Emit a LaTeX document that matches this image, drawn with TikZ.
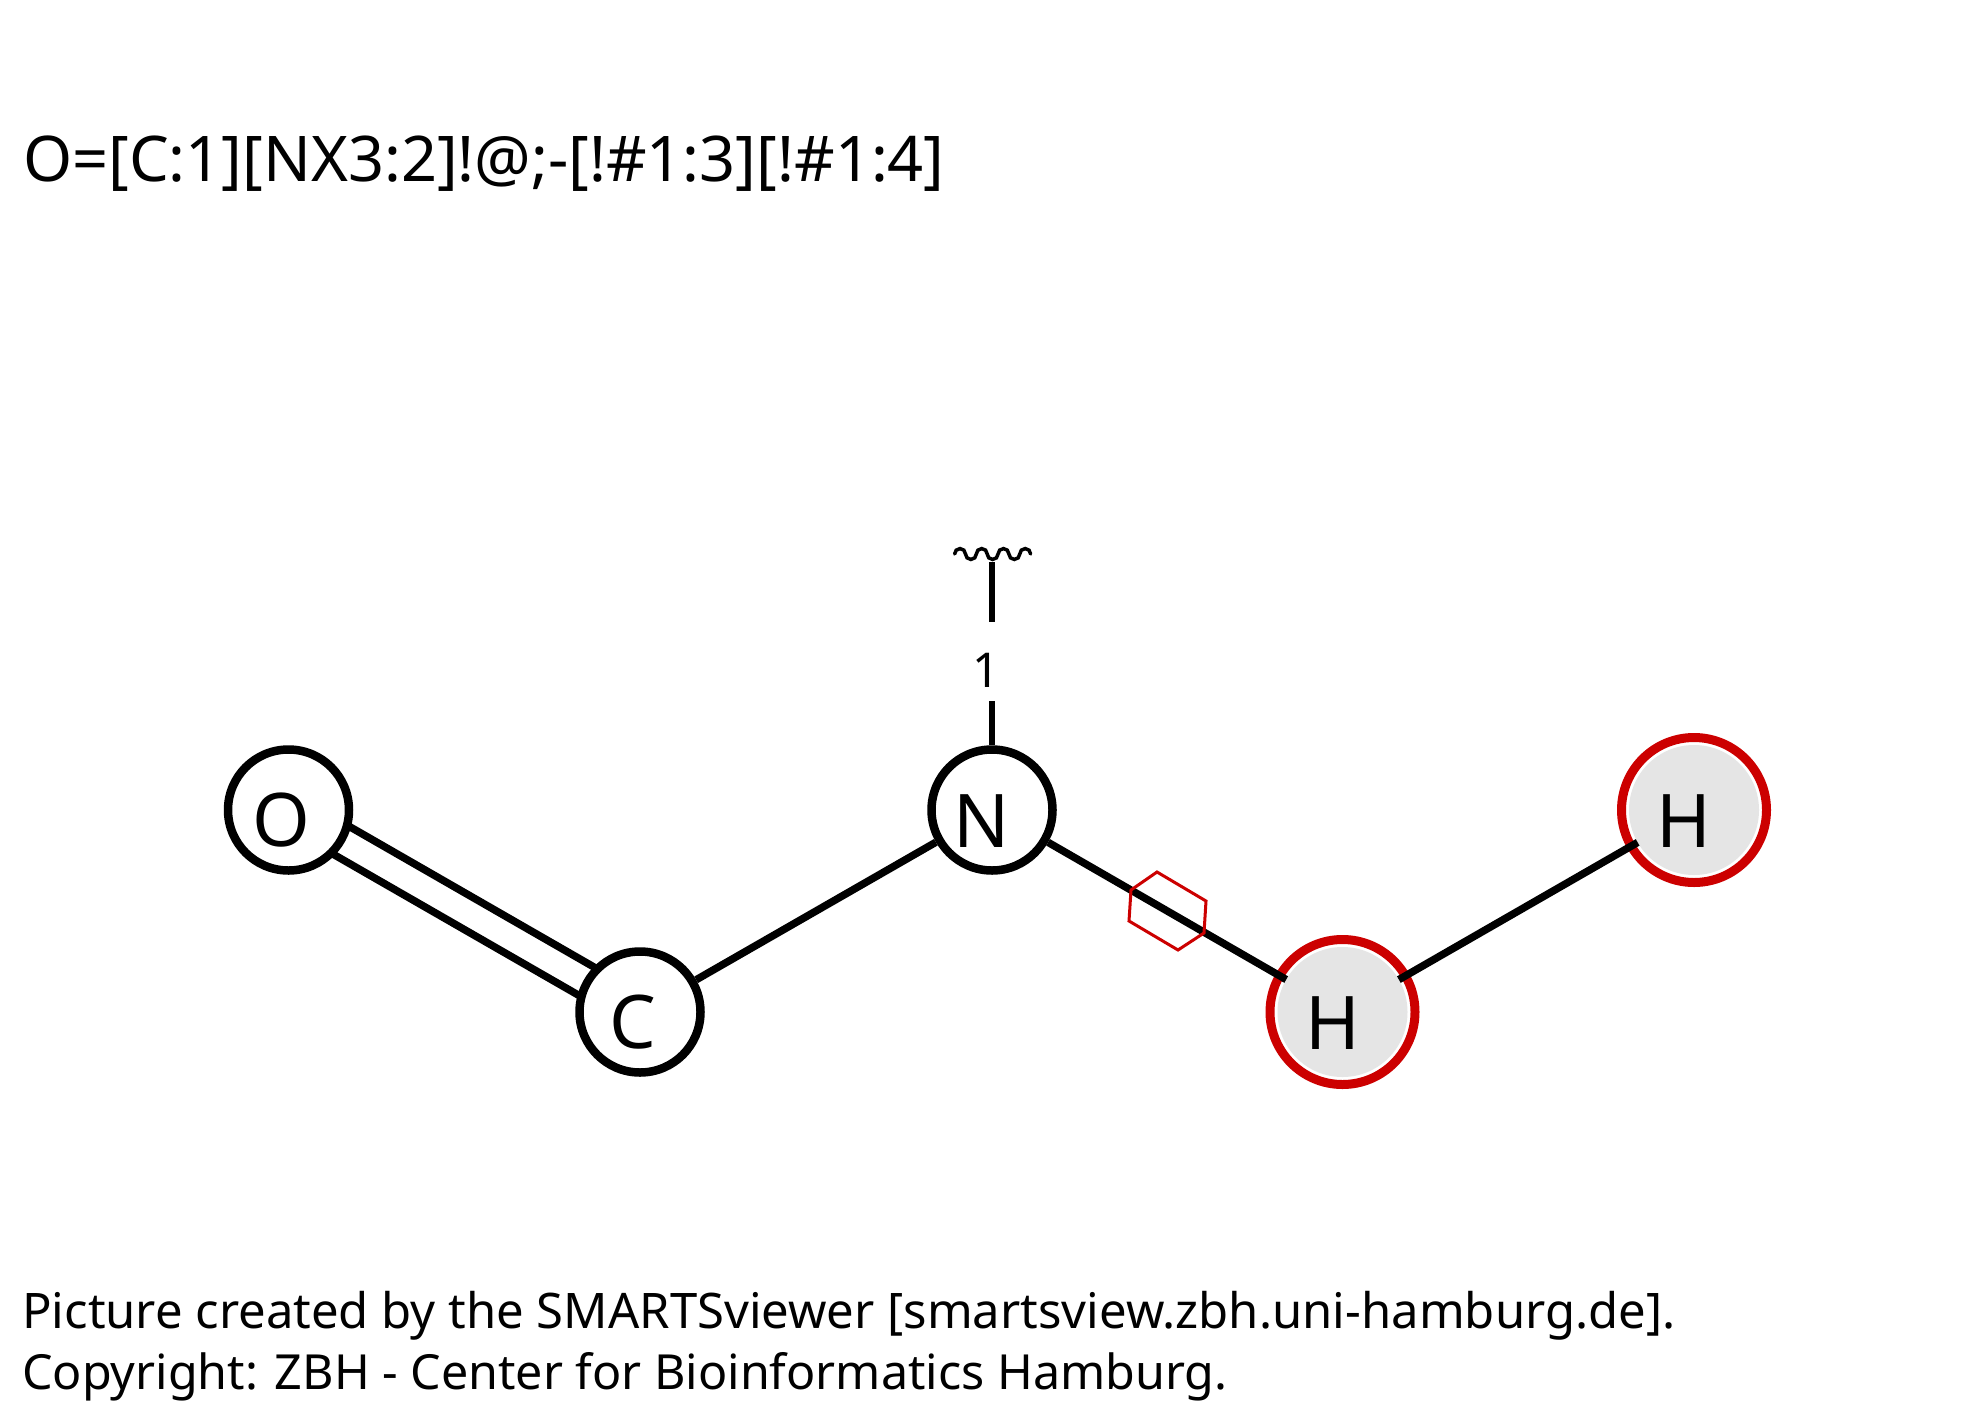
\documentclass[tikz,border=0pt]{standalone}
\usepackage{fontspec}
\setmainfont{Noto Sans}
\usetikzlibrary{backgrounds}
\definecolor{MarkClr}{rgb}{0.8,0,0}
\definecolor{DiscClr}{gray}{0.9}

\begin{document}
\begin{tikzpicture}[x=1pt,y=-1pt]
\tikzset{
  atom/.style={circle,draw=black,fill=white,line width=8.5pt,minimum size=121pt,inner sep=0pt},
  noatom/.style={circle,draw=MarkClr,fill=white,line width=9pt,minimum size=145pt,inner sep=0pt,
    path picture={\fill[DiscClr] (path picture bounding box.center) circle (65pt);}},
  atomlabel/.style={font=\fontsize{74}{74}\selectfont,text=black,inner sep=0pt},
  bond/.style={line width=7.5pt,black},
  thinbond/.style={line width=5.3pt,black},
  caption/.style={anchor=base west,inner sep=0pt}
}
\useasboundingbox (0,0) rectangle (1984,1427);

\node[caption,font=\fontsize{63}{63}\selectfont] (smarts) at (23,181) {O=[C:1][NX3:2]!@;-[!\#1:3][!\#1:4]};
\node[caption,font=\fontsize{49}{49}\selectfont] (creditA) at (22,1328) {Picture created by the SMARTSviewer [smartsview.zbh.uni-hamburg.de].};
\node[caption,font=\fontsize{48.4}{48.4}\selectfont] (creditB) at (22,1389) {Copyright: ZBH - Center for Bioinformatics Hamburg.};

\node[atom,label={[atomlabel,xshift=-7.5pt,yshift=-10pt]center:O}] (O) at (288.5,810) {};
\node[atom,label={[atomlabel,xshift=-7pt,yshift=-10pt]center:C}] (C) at (640,1012) {};
\node[atom,label={[atomlabel,xshift=-10pt,yshift=-11pt]center:N}] (N) at (992,810) {};
\node[noatom,label={[atomlabel,xshift=-10pt,yshift=-11pt]center:H}] (HA) at (1342.5,1012) {};
\node[noatom,label={[atomlabel,xshift=-10pt,yshift=-11pt]center:H}] (HB) at (1694,810) {};

\node[font=\fontsize{48}{48}\selectfont,inner sep=0pt] (one) at (986.5,670) {1};
\coordinate (stubA) at (992,700.7);
\coordinate (stubB) at (992,621.7);
\coordinate (stubC) at (992,562);
\coordinate (wave) at (954.6,554);

\begin{pgfonlayer}{background}
\draw[bond] ([shift={(8,-13.9)}]O.center) -- ([shift={(8,-13.9)}]C.center);
\draw[bond] ([shift={(-8,13.9)}]O.center) -- ([shift={(-8,13.9)}]C.center);
\end{pgfonlayer}

\draw[bond] (C) -- (N);
\draw[bond,shorten >=-12pt] (N) -- (HA);
\draw[bond,shorten <=-12pt,shorten >=-12pt] (HA) -- (HB);
\draw[thinbond] (N.north) -- (stubA);
\draw[thinbond] (stubB) -- (stubC);

\draw[line width=3.5pt,line cap=round] (wave)
  \foreach \e in {0,360,0,360,0,360,0} {arc[start angle=180,end angle=\e,radius=5.43pt]};

\draw[MarkClr,line width=3pt] (1157,872) -- (1206,901) -- (1204,933) -- (1178,950) -- (1129,921) -- (1131,890) -- cycle;

\end{tikzpicture}
\end{document}
